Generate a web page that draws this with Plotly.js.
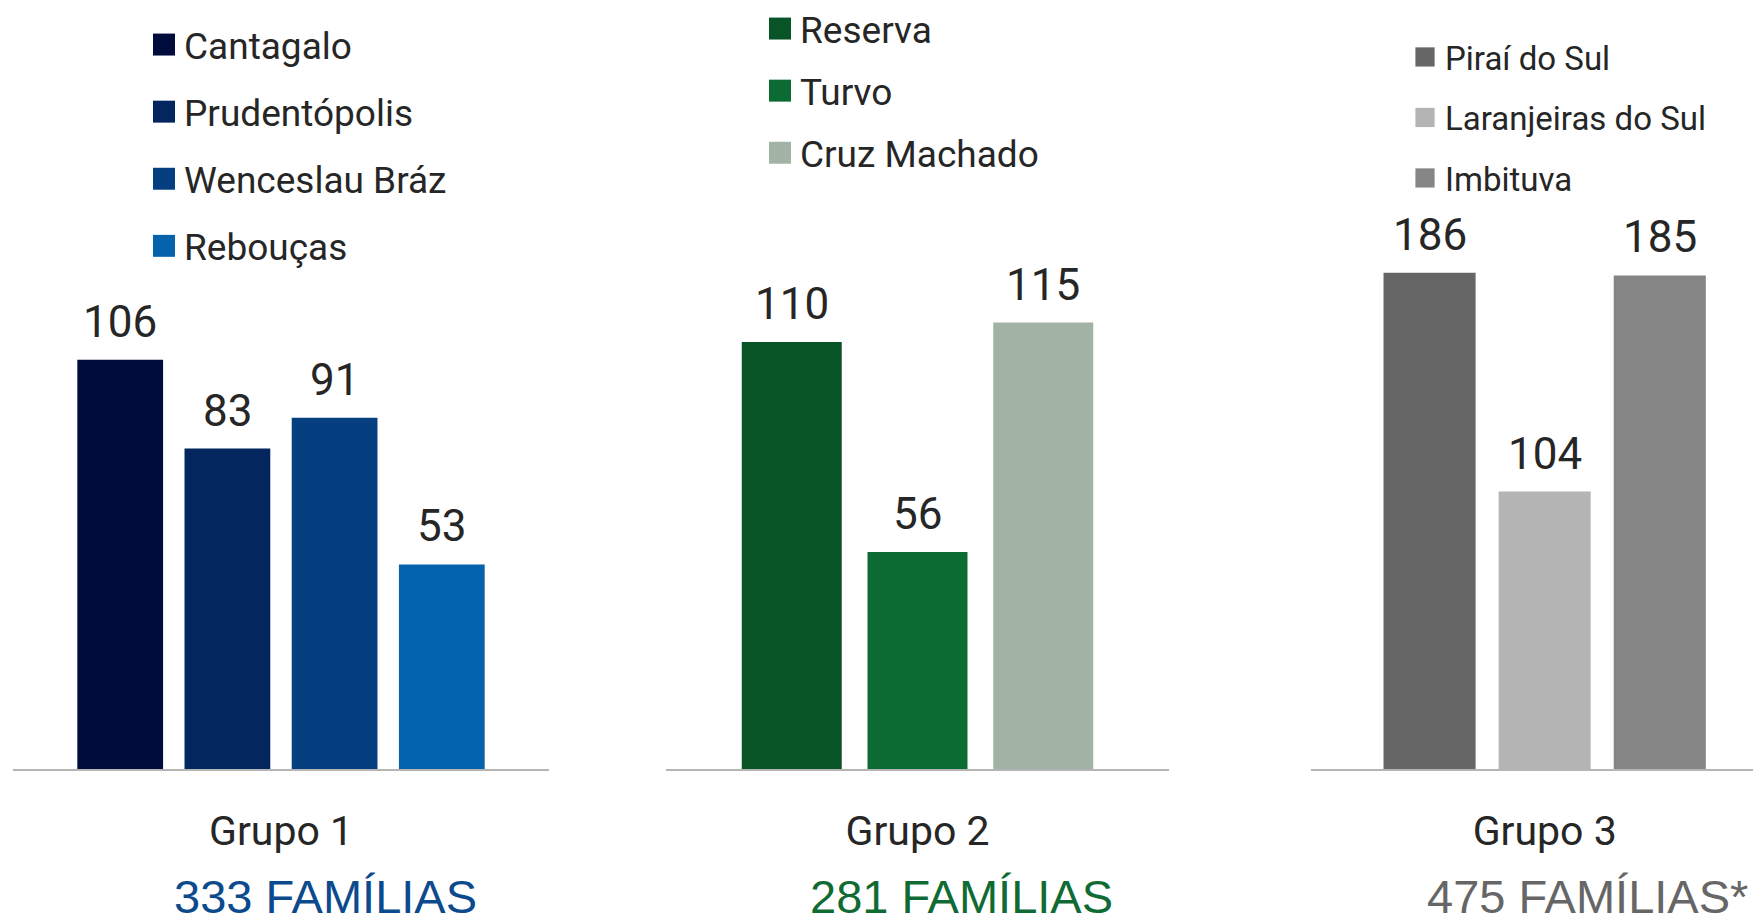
<!DOCTYPE html>
<html>
<head>
<meta charset="utf-8">
<script src="https://cdn.plot.ly/plotly-3.0.1.min.js"></script>
<style>
  html, body { margin: 0; padding: 0; background: #ffffff; }
  #chart { width: 1753px; height: 923px; }
</style>
</head>
<body>
<div id="chart"></div>
<script>
// ---- data ----
const group1Cities = ['Cantagalo', 'Prudentópolis', 'Wenceslau Bráz', 'Rebouças'];
const group1Values = [106, 83, 91, 53];
const group2Cities = ['Reserva', 'Turvo', 'Cruz Machado'];
const group2Values = [110, 56, 115];
const group3Cities = ['Piraí do Sul', 'Laranjeiras do Sul', 'Imbituva'];
const group3Values = [186, 104, 185];
const groupLabels = ['Grupo 1', 'Grupo 2', 'Grupo 3'];
const familyTotals = ['333 FAMÍLIAS', '281 FAMÍLIAS', '475 FAMÍLIAS*'];

// ---- styles ----
const group1Colors = ['#000c3b', '#03265f', '#053f80', '#0562ad'];
const group2Colors = ['#085426', '#0c6a33', '#a2b2a4'];
const group3Colors = ['#666666', '#b4b4b4', '#858585'];
const totalColors = ['#0b4a8c', '#0f6b33', '#666666'];
const NARROW = "Roboto, 'Liberation Sans', sans-serif";
const TEXT = '#262626';

const groups = [
  {cities: group1Cities, values: group1Values, colors: group1Colors, ax: '', legend: 'legend', width: 0.80},
  {cities: group2Cities, values: group2Values, colors: group2Colors, ax: '2', legend: 'legend2', width: 0.795},
  {cities: group3Cities, values: group3Values, colors: group3Colors, ax: '3', legend: 'legend3', width: 0.80}
];

const traces = [];
const annotations = [];
groups.forEach((g, gi) => {
  g.cities.forEach((city, i) => {
    traces.push({
      type: 'bar',
      name: city,
      x: [i],
      y: [g.values[i]],
      width: g.width,
      marker: {color: g.colors[i], line: {width: 0}},
      xaxis: 'x' + g.ax,
      yaxis: 'y' + g.ax,
      legend: g.legend,
      legendgroup: 'g' + gi + '_' + i,
      hovertemplate: city + ': %{y}<extra></extra>'
    });
    annotations.push({
      xref: 'x' + g.ax, yref: 'y' + g.ax,
      x: i, y: g.values[i],
      text: String(g.values[i]),
      showarrow: false,
      xanchor: 'center', yanchor: 'bottom',
      yshift: 10,
      font: {family: NARROW, size: 44, color: TEXT}
    });
  });
});

const totalX = [325 / 1753, 961.5 / 1753, 1587 / 1753];
familyTotals.forEach((t, i) => {
  annotations.push({
    xref: 'paper', yref: 'paper',
    x: totalX[i], y: 1 - 896 / 923,
    text: t, showarrow: false,
    xanchor: 'center', yanchor: 'middle',
    font: {family: "'Liberation Sans', Arial, sans-serif", size: 47, color: totalColors[i]}
  });
});

function xAxis(domain, range, n, label) {
  return {
    domain: domain, range: range, type: 'linear', fixedrange: true, automargin: false,
    showgrid: false, zeroline: false,
    showline: true, linecolor: '#b5b5b5', linewidth: 2,
    ticks: '', tickmode: 'array', tickvals: [(n - 1) / 2], ticktext: [label],
    tickfont: {family: NARROW, size: 41, color: TEXT},
    ticklabelstandoff: 25
  };
}
function yAxis(domain, range) {
  return {domain: domain, range: range, visible: false, fixedrange: true, automargin: false};
}
function legendAt(xpx, ypx, size, gap) {
  return {
    x: xpx / 1753, y: 1 - ypx / 923, xanchor: 'left', yanchor: 'top',
    orientation: 'v', traceorder: 'grouped', tracegroupgap: gap,
    bgcolor: 'rgba(0,0,0,0)', borderwidth: 0,
    font: {family: NARROW, size: size, color: TEXT}
  };
}

const layout = {
  width: 1753, height: 923,
  margin: {l: 0, r: 0, t: 0, b: 0, pad: 0, autoexpand: false},
  paper_bgcolor: '#ffffff', plot_bgcolor: '#ffffff',
  barmode: 'overlay',
  showlegend: true,
  xaxis: xAxis([13 / 1753, 549 / 1753], [-1, 4], group1Cities.length, groupLabels[0]),
  xaxis2: xAxis([666 / 1753, 1169 / 1753], [-1, 3], group2Cities.length, groupLabels[1]),
  xaxis3: xAxis([1311 / 1753, 1], [-1.03, 2.81], group3Cities.length, groupLabels[2]),
  yaxis: yAxis([1 - 769 / 923, 1 - 200 / 923], [0, 147.4]),
  yaxis2: yAxis([1 - 770 / 923, 1 - 200 / 923], [0, 146.5]),
  yaxis3: yAxis([1 - 769 / 923, 1 - 200 / 923], [0, 213.3]),
  legend: legendAt(144, 14, 37, 16),
  legend2: legendAt(760, -2, 37, 11),
  legend3: legendAt(1405, 29, 33, 14.6),
  annotations: annotations
};

Plotly.newPlot('chart', traces, layout, {displayModeBar: false, responsive: false}).then(gd => {
  gd.querySelectorAll('g.traces').forEach(item => {
    const d = item.__data__;
    const tr = d && d[0] && d[0].trace;
    const s = (tr && tr.legend === 'legend3') ? 1.6 : 1.83;
    item.querySelectorAll('.legendpoints path').forEach(p => {
      const t = p.getAttribute('transform') || '';
      p.setAttribute('transform', t + ' scale(' + s + ')');
    });
  });
});
</script>
</body>
</html>
